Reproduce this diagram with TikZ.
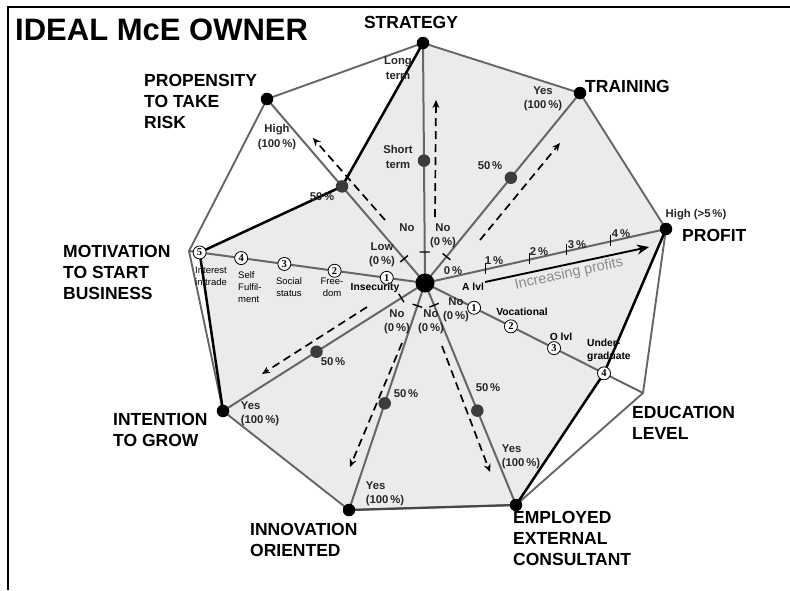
\documentclass[tikz,border=0pt]{standalone}
\usepackage{fontspec}
\setmainfont{Liberation Sans}
\newfontfamily\serifdig{Liberation Serif}
\usetikzlibrary{calc,arrows.meta}
\definecolor{spk}{HTML}{666666}
\definecolor{fillg}{HTML}{EBEBEB}
\definecolor{lbl}{HTML}{262626}
\definecolor{dotg}{HTML}{3C3C3C}
\definecolor{txtg}{HTML}{8C8C8C}
\begin{document}
\begin{tikzpicture}[x=1pt,y=-1pt,
 axislbl/.style={font=\bfseries\fontsize{17.5}{21}\selectfont, align=left, inner sep=0pt, anchor=north west},
 sm/.style={font=\bfseries\fontsize{11.3}{14.5}\selectfont, text=lbl, align=center, inner sep=0pt},
 mot/.style={font=\fontsize{9.5}{11.8}\selectfont, align=center, inner sep=0pt},
 edl/.style={font=\bfseries\fontsize{10.3}{13}\selectfont, align=left, inner sep=0pt},
 spoke/.style={draw=spk, line width=2pt},
 outerln/.style={draw=spk, line width=1.9pt, line join=round},
 prof/.style={draw=black, line width=2.5pt, line join=round, line cap=round},
 darr/.style={draw=black, line width=1.7pt, dash pattern=on 8pt off 5pt, -{Stealth[length=8pt,width=7pt]}},
 tickm/.style={draw=black, line width=1.4pt},
 vdot/.style={circle, fill=black, minimum size=12.5pt, inner sep=0pt},
 hdot/.style={circle, fill=dotg, minimum size=12.5pt, inner sep=0pt},
 cnum/.style={circle, draw=black, fill=white, line width=0.8pt, minimum size=13pt, inner sep=0pt, font=\serifdig\bfseries\fontsize{10.5}{10.5}\selectfont},
]
\useasboundingbox (0,0) rectangle (790,590);
% frame (top and left)
\draw[line width=1.6pt] (8,590) -- (8,7) -- (790,7);

% main coordinates
\coordinate (C) at (425,283);
\coordinate (vS) at (423,43);
\coordinate (vT) at (580,93);
\coordinate (vP) at (666,229);
\coordinate (vE) at (643,393);
\coordinate (vM) at (516,505);
\coordinate (vI) at (349,510);
\coordinate (vG) at (223,411);
\coordinate (vMo) at (189,251);
\coordinate (vR) at (267,99);
% profile points
\coordinate (e1) at ($(C)!0.225!(vE)$);
\coordinate (e2) at ($(C)!0.394!(vE)$);
\coordinate (e3) at ($(C)!0.592!(vE)$);
\coordinate (e4) at ($(C)!0.821!(vE)$);
\coordinate (m1) at ($(C)!0.162!(vMo)$);
\coordinate (m2) at ($(C)!0.383!(vMo)$);
\coordinate (m3) at ($(C)!0.596!(vMo)$);
\coordinate (m4) at ($(C)!0.779!(vMo)$);
\coordinate (m5) at ($(C)!0.955!(vMo)$);
\coordinate (r50) at ($(C)!0.525!(vR)$);
\coordinate (t50) at ($(C)!0.554!(vT)$);
\coordinate (s50) at ($(C)!0.51!(vS)$);
\coordinate (g50) at ($(C)!0.537!(vG)$);
\coordinate (i50) at ($(C)!0.53!(vI)$);
\coordinate (p50) at ($(C)!0.575!(vM)$);

% filled profile
\fill[fillg] (vS) -- (vT) -- (vP) -- (e4) -- (vM) -- (vI) -- (vG) -- (m5) -- (r50) -- cycle;

% outer polygon
\draw[outerln] (vS) -- (vT) -- (vP) -- (vE) -- (vM) -- (vI) -- (vG) -- (vMo) -- (vR) -- cycle;
\draw[draw=black!72, line width=2.2pt] (vI) -- (vM);

% spokes
\foreach \v in {vS,vT,vP,vE,vM,vI,vG,vMo,vR} {\draw[spoke] (C) -- (\v);}

% ticks near centre
\foreach \v/\d in {vS/31,vR/32,vT/34,vG/28,vI/24,vM/24} {
  \coordinate (tk) at ($(C)!\d pt!(\v)$);
  \draw[tickm] ($(tk)!5pt!90:(\v)$) -- ($(tk)!5pt!-90:(\v)$);
}
% profit ticks
\foreach \x/\y in {485/269.6,529/259.7,566/251.4,610/241.6} {
  \draw[tickm, line width=1pt] (\x,\y-7) -- (\x,\y+4);
}

% dashed arrows
\coordinate (aS1) at (435,217); \coordinate (aS2) at (436,100);
\coordinate (aR1) at (385,220); \coordinate (aR2) at (313,138);
\coordinate (aT1) at (480,240); \coordinate (aT2) at (560,143);
\coordinate (aG1) at (367,307); \coordinate (aG2) at (262,374);
\coordinate (aI1) at (402,343); \coordinate (aI2) at (350,467);
\coordinate (aM1) at (442,346); \coordinate (aM2) at (490,472);
\draw[darr] (aS1) -- (aS2);
\draw[darr] (aR1) -- (aR2);
\draw[darr] (aT1) -- (aT2);
\draw[darr] (aG1) -- (aG2);
\draw[darr] (aI1) -- (aI2);
\draw[darr] (aM1) -- (aM2);

% black profile lines
\draw[prof] (vS) -- (r50) -- (m5) -- (vG);
\draw[prof] (vM) -- (e4) -- (vP);

% increasing profits arrow
\coordinate (ip1) at (485,282); \coordinate (ip2) at (649,247);
\draw[line width=1.9pt, -{Stealth[length=12pt,width=10pt]}] (ip1) -- (ip2);
\node[font=\fontsize{14.5}{14.5}\selectfont, text=txtg, rotate=12, inner sep=0pt] (incp) at (569,274) {Increasing profits};

% dots
\node[vdot, minimum size=19pt] (dC) at (C) {};
\node[vdot] (dS) at (vS) {};
\node[vdot] (dT) at (vT) {};
\node[vdot] (dP) at (vP) {};
\node[vdot] (dM) at (vM) {};
\node[vdot] (dI) at (vI) {};
\node[vdot] (dG) at (vG) {};
\node[vdot] (dR) at (vR) {};
\node[hdot] (dr50) at (r50) {};
\node[hdot] (dt50) at (t50) {};
\node[hdot] (ds50) at (s50) {};
\node[hdot] (dg50) at (g50) {};
\node[hdot] (di50) at (i50) {};
\node[hdot] (dp50) at (p50) {};

% circled numbers
\node[cnum] (ce1) at (e1) {1};
\node[cnum] (ce2) at (e2) {2};
\node[cnum] (ce3) at (e3) {3};
\node[cnum] (ce4) at (e4) {4};
\node[cnum] (cm1) at (m1) {1};
\node[cnum] (cm2) at (m2) {2};
\node[cnum] (cm3) at (m3) {3};
\node[cnum] (cm4) at (m4) {4};
\node[cnum] (cm5) at (m5) {5};

% title
\node[font=\bfseries\fontsize{31}{31}\selectfont, anchor=west, inner sep=0pt] (title) at (15,30) {IDEAL McE OWNER};

% axis labels
\node[axislbl, anchor=center] (lS) at (411,22) {STRATEGY};
\node[axislbl] (lT) at (585,80) {TRAINING};
\node[axislbl] (lP) at (682,229) {PROFIT};
\node[axislbl] (lE) at (632,406) {EDUCATION\\LEVEL};
\node[axislbl] (lM) at (513,511) {EMPLOYED\\EXTERNAL\\CONSULTANT};
\node[axislbl] (lI) at (250,523) {INNOVATION\\ORIENTED};
\node[axislbl] (lG) at (113,413) {INTENTION\\TO GROW};
\node[axislbl] (lMo) at (63,245) {MOTIVATION\\TO START\\BUSINESS};
\node[axislbl] (lR) at (144,74) {PROPENSITY\\TO TAKE\\RISK};

% strategy labels
\node[sm] (sLong) at (398,68) {Long\\term};
\node[sm] (sShort) at (398,157) {Short\\term};
\node[sm] (sNo) at (407,228) {No};
% training labels
\node[sm] (tYes) at (543,99) {Yes\\(100\,\%)};
\node[sm] (t50l) at (490,166) {50\,\%};
\node[sm] (tNo) at (443,236) {No\\(0\,\%)};
% propensity labels
\node[sm] (rHigh) at (277,137) {High\\(100\,\%)};
\node[sm] (r50l) at (322,197) {50\,\%};
\node[sm] (rLow) at (382,255) {Low\\(0\,\%)};
% profit labels
\node[sm] (p0) at (453,271) {0\,\%};
\node[sm] (p1) at (494,261) {1\,\%};
\node[sm] (p2) at (539,252) {2\,\%};
\node[sm] (p3) at (577,245) {3\,\%};
\node[sm] (p4) at (621,234) {4\,\%};
\node[sm] (pHigh) at (696,215) {High (>5\,\%)};
% education labels
\node[edl] (eA) at (473,287) {A lvl};
\node[sm] (eNo) at (456,310) {No\\(0\,\%)};
\node[edl] (eVoc) at (522,312) {Vocational};
\node[edl] (eO) at (561,337) {O lvl};
\node[edl, anchor=west] (eU) at (587,350) {Under-\\graduate};
% employed labels
\node[sm] (mNo) at (431,322) {No\\(0\,\%)};
\node[sm] (m50l) at (488,388) {50\,\%};
\node[sm, align=left] (mYes) at (521,457) {Yes\\(100\,\%)};
% innovation labels
\node[sm] (iNo) at (397,322) {No\\(0\,\%)};
\node[sm] (i50l) at (406,394) {50\,\%};
\node[sm, align=left] (iYes) at (385,494) {Yes\\(100\,\%)};
% intention labels
\node[sm] (g50l) at (333,362) {50\,\%};
\node[sm, align=left] (gYes) at (260,414) {Yes\\(100\,\%)};
% motivation labels
\node[edl, align=center] (mo1) at (375,288) {Insecurity};
\node[mot] (mo2) at (332,287) {Free-\\dom};
\node[mot] (mo3) at (289,287) {Social\\status};
\node[mot, align=left, anchor=west] (mo4) at (238,287) {Self\\Fulfil-\\ment};
\node[mot, align=left, anchor=west] (mo5) at (195,276) {Interest\\in trade};
\end{tikzpicture}
\end{document}
